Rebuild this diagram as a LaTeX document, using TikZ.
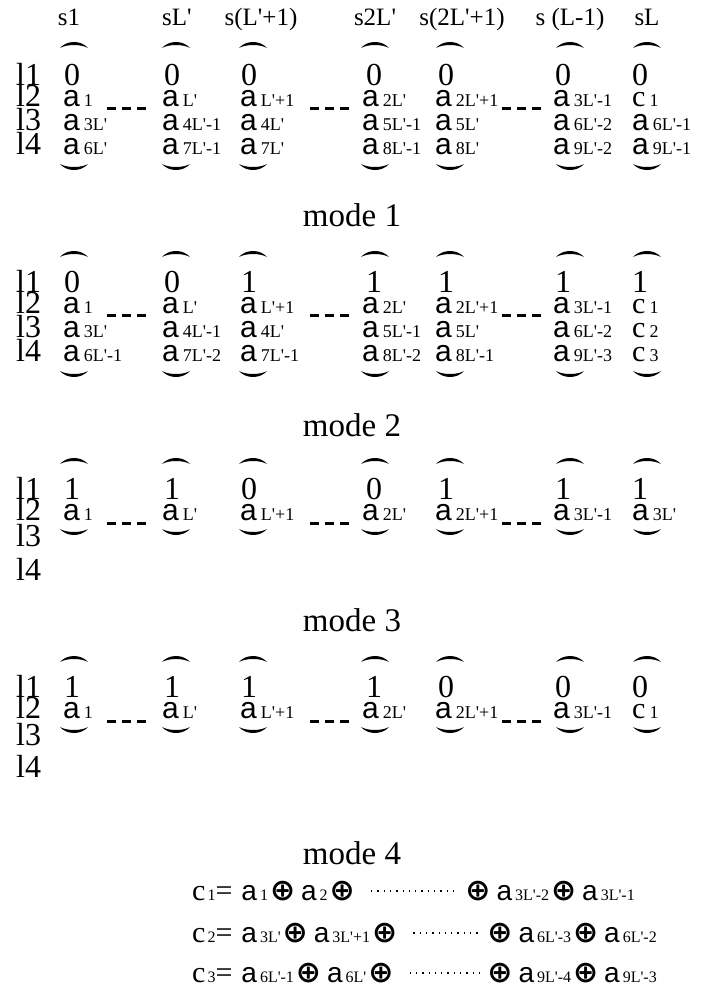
\documentclass[tikz,border=0pt]{standalone}
\usepackage{fontspec}
\setmainfont{Liberation Serif}
\newfontfamily\asans{Liberation Sans}
\newfontfamily\djv{DejaVu Sans}
\newcommand\Lp{L\textquotesingle}
\newcommand\sbs[1]{{\fontsize{18}{18}\selectfont #1}}
\newcommand\va[1]{{\fontsize{30}{30}\asans a}\hspace{4pt}\sbs{#1}}
\newcommand\vc[1]{{\fontsize{30}{30}\selectfont c}\hspace{4pt}\sbs{#1}}
\newcommand\esb[1]{{\fontsize{16}{16}\selectfont #1}}
\newcommand\ea[1]{{\fontsize{28}{28}\asans a}\hspace{3pt}\esb{#1}}
\newcommand\ec[1]{{\fontsize{30}{30}\selectfont c}\hspace{2pt}\esb{#1}}
\newcommand\op{\hspace{2pt}{\fontsize{30}{30}\djv\bfseries ⊕}\hspace{6pt}}
\newcommand\eqs{{\fontsize{30}{30}\selectfont =}}
\def\acols{{63,162,240,362,435,553,632}}
\def\dcols{{72,172,249,374,446,563,640}}
\newcommand\arow[3]{\foreach \ct [count=\i] in {#3} {\pgfmathsetmacro\xx{\acols[\i-1]}\node[cell] (#1\i) at (\xx,#2) {\ct};}}
\newcommand\drow[3]{\foreach \ct [count=\i] in {#3} {\pgfmathsetmacro\xx{\dcols[\i-1]}\node[dig] (#1\i) at (\xx,#2) {\ct};}}
\newcommand\toparc[2]{\fill (#1-14,#2+3) .. controls (#1-7,#2-5) and (#1+7,#2-5) .. (#1+14,#2+3) .. controls (#1+7,#2-1) and (#1-7,#2-1) .. cycle;}
\newcommand\botarc[2]{\fill (#1-14,#2-3) .. controls (#1-7,#2+5) and (#1+7,#2+5) .. (#1+14,#2-3) .. controls (#1+7,#2+1) and (#1-7,#2+1) .. cycle;}
\newcommand\tarcs[1]{\foreach \ax in {74,176,253,375,450,570,647} {\toparc{\ax}{#1}}}
\newcommand\barcs[1]{\foreach \ax in {74,176,253,375,450,570,647} {\botarc{\ax}{#1}}}
\newcommand\gaps[1]{\draw[gap] (107,#1) -- (147,#1); \draw[gap] (310,#1) -- (350,#1); \draw[gap] (502,#1) -- (542,#1);}
\newcommand\labs[5]{\node[lab] (#1a) at (16,#2) {l1}; \node[lab] (#1b) at (16,#3) {l2}; \node[lab] (#1c) at (16,#4) {l3}; \node[lab] (#1d) at (16,#5) {l4};}
\tikzset{
 cell/.style={inner sep=0pt, anchor=base west},
 dig/.style={inner sep=0pt, anchor=base, font=\fontsize{32}{32}\selectfont},
 lab/.style={inner sep=0pt, anchor=base west, font=\fontsize{32}{32}\selectfont},
 hdr/.style={inner sep=0pt, anchor=base, font=\fontsize{25}{25}\selectfont},
 modelab/.style={inner sep=0pt, anchor=base, font=\fontsize{33}{33}\selectfont},
 eqn/.style={inner sep=0pt, anchor=base west},
 eqr/.style={inner sep=0pt, anchor=base east},
 gap/.style={line width=3pt, dash pattern=on 9pt off 6pt},
 leader/.style={line width=1.3pt, dash pattern=on 1.3pt off 5pt},
}
\begin{document}
\begin{tikzpicture}[x=1pt,y=-1pt]
\useasboundingbox[fill=white] (0,0) rectangle (702,997);
% header
\node[hdr] (h1) at (69,25) {s1};
\node[hdr] (h2) at (177,25) {s\Lp};
\node[hdr] (h3) at (261,25) {s(\Lp+1)};
\node[hdr] (h4) at (375,25) {s2\Lp};
\node[hdr] (h5) at (462,25) {s(2\Lp+1)};
\node[hdr] (h6) at (570,25) {s (L-1)};
\node[hdr] (h7) at (647,25) {sL};
% block 1
\tarcs{45}
\labs{A}{85}{106}{130}{154}
\drow{Ar1c}{85}{0,0,0,0,0,0,0}
\arow{Ar2c}{106}{\va{1},\va{\Lp},\va{\Lp+1},\va{2\Lp},\va{2\Lp+1},\va{3\Lp-1},\vc{1}}
\arow{Ar3c}{130}{\va{3\Lp},\va{4\Lp-1},\va{4\Lp},\va{5\Lp-1},\va{5\Lp},\va{6\Lp-2},\va{6\Lp-1}}
\arow{Ar4c}{154}{\va{6\Lp},\va{7\Lp-1},\va{7\Lp},\va{8\Lp-1},\va{8\Lp},\va{9\Lp-2},\va{9\Lp-1}}
\barcs{167}
\gaps{108}
\node[modelab] (m1) at (352,226) {mode 1};
% block 2
\tarcs{254}
\labs{B}{292}{313}{337}{361}
\drow{Br1c}{292}{0,0,1,1,1,1,1}
\arow{Br2c}{313}{\va{1},\va{\Lp},\va{\Lp+1},\va{2\Lp},\va{2\Lp+1},\va{3\Lp-1},\vc{1}}
\arow{Br3c}{337}{\va{3\Lp},\va{4\Lp-1},\va{4\Lp},\va{5\Lp-1},\va{5\Lp},\va{6\Lp-2},\vc{2}}
\arow{Br4c}{361}{\va{6\Lp-1},\va{7\Lp-2},\va{7\Lp-1},\va{8\Lp-2},\va{8\Lp-1},\va{9\Lp-3},\vc{3}}
\barcs{374}
\gaps{315}
\node[modelab] (m2) at (352,436) {mode 2};
% block 3
\tarcs{461}
\labs{C}{499}{520}{546}{580}
\drow{Cr1c}{499}{1,1,0,0,1,1,1}
\arow{Cr2c}{520}{\va{1},\va{\Lp},\va{\Lp+1},\va{2\Lp},\va{2\Lp+1},\va{3\Lp-1},\va{3\Lp}}
\barcs{532}
\gaps{523}
\node[modelab] (m3) at (352,631) {mode 3};
% block 4
\tarcs{659}
\labs{D}{697}{718}{745}{777}
\drow{Dr1c}{697}{1,1,1,1,0,0,0}
\arow{Dr2c}{718}{\va{1},\va{\Lp},\va{\Lp+1},\va{2\Lp},\va{2\Lp+1},\va{3\Lp-1},\vc{1}}
\barcs{730}
\gaps{721}
\node[modelab] (m4) at (352,864) {mode 4};
% equations
\node[eqn] (e1a) at (192,900) {\ec{1}\eqs\hspace{9pt}\ea{1}\op\ea{2}\op};
\node[eqr] (e1b) at (635,900) {\op\ea{3\Lp-2}\op\ea{3\Lp-1}};
\draw[leader] ([xshift=16pt,yshift=9pt]e1a.base east) -- ([xshift=-6pt,yshift=9pt]e1b.base west);
\node[eqn] (e2a) at (192,942) {\ec{2}\eqs\hspace{9pt}\ea{3\Lp}\op\ea{3\Lp+1}\op};
\node[eqr] (e2b) at (657,942) {\op\ea{6\Lp-3}\op\ea{6\Lp-2}};
\draw[leader] ([xshift=16pt,yshift=9pt]e2a.base east) -- ([xshift=-6pt,yshift=9pt]e2b.base west);
\node[eqn] (e3a) at (192,982) {\ec{3}\eqs\hspace{9pt}\ea{6\Lp-1}\op\ea{6\Lp}\op};
\node[eqr] (e3b) at (657,982) {\op\ea{9\Lp-4}\op\ea{9\Lp-3}};
\draw[leader] ([xshift=16pt,yshift=9pt]e3a.base east) -- ([xshift=-6pt,yshift=9pt]e3b.base west);
\end{tikzpicture}
\end{document}
